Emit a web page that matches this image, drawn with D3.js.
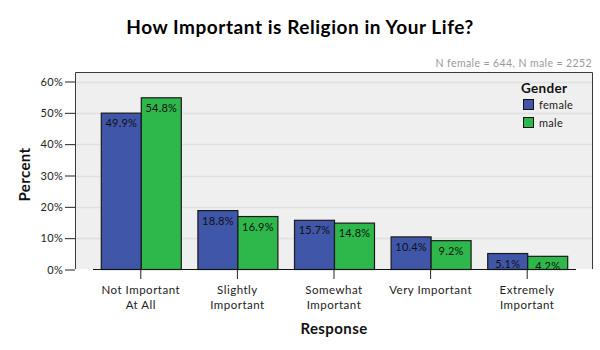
<!DOCTYPE html>
<html>
<head>
<meta charset="utf-8">
<script src="https://cdn.jsdelivr.net/npm/d3@7"></script>
<style>
  html, body { margin: 0; padding: 0; background: #fff; }
  svg { display: block; font-family: Lato, "Open Sans", sans-serif; }
</style>
</head>
<body>
<svg id="chart" width="600" height="350"></svg>
<script>
// Survey responses by gender (percent of respondents)
const categories = ["Not Important|At All", "Slightly|Important", "Somewhat|Important", "Very Important", "Extremely|Important"];
const groups = ["female", "male"];
const femaleValues = [49.9, 18.8, 15.7, 10.4, 5.1];
const maleValues = [54.8, 16.9, 14.8, 9.2, 4.2];
const yTicks = [0, 10, 20, 30, 40, 50, 60];
const colors = ["#3f56a9", "#2eb84b"];

const svg = d3.select("#chart");
const panel = { left: 75, top: 72, right: 593, bottom: 269 };

const x = d3.scaleBand()
  .domain(categories)
  .range([92.5, 575.5])
  .paddingInner(0.172)
  .paddingOuter(0.086);
const xSub = d3.scaleBand().domain(groups).range([0, x.bandwidth()]);
const y = d3.scaleLinear().domain([0, 60]).range([269.5, 81.5]);

// Panel background
svg.append("rect")
  .attr("x", panel.left).attr("y", panel.top)
  .attr("width", panel.right - panel.left).attr("height", panel.bottom - panel.top)
  .attr("fill", "#efefef");

// Horizontal gridlines
svg.append("g").selectAll("line")
  .data(yTicks.filter(d => d > 0))
  .join("line")
  .attr("x1", panel.left).attr("x2", panel.right)
  .attr("y1", d => Math.round(y(d)) + 0.5).attr("y2", d => Math.round(y(d)) + 0.5)
  .attr("stroke", "#e0e0e0").attr("stroke-width", 1.5);

// Panel border (left, top, right)
svg.append("path")
  .attr("d", `M${panel.left + 0.5},${panel.bottom}V${panel.top + 0.5}H${panel.right - 0.5}V${panel.bottom}`)
  .attr("fill", "none").attr("stroke", "#3a3a3a").attr("stroke-width", 1);

// Y axis
const yAxis = svg.append("g")
  .attr("transform", `translate(${panel.left},0)`)
  .call(d3.axisLeft(y).tickValues(yTicks).tickFormat(d => d + "%").tickSize(10).tickPadding(2));
yAxis.select(".domain").remove();
yAxis.selectAll(".tick line").attr("stroke", "#222");
yAxis.selectAll("text").attr("font-size", 11).attr("fill", "#222")
  .attr("font-family", "Lato, sans-serif").attr("letter-spacing", "0.3px");

// Bars
const series = groups.map((g, i) => ({ key: g, values: i === 0 ? femaleValues : maleValues }));
const barData = [];
categories.forEach((c, ci) => {
  series.forEach((s, si) => barData.push({ cat: c, key: s.key, value: s.values[ci], color: colors[si] }));
});

const bars = svg.append("g").selectAll("g").data(barData).join("g");
bars.append("rect")
  .attr("x", d => x(d.cat) + xSub(d.key) + 0.5)
  .attr("y", d => y(d.value))
  .attr("width", xSub.bandwidth())
  .attr("height", d => y(0) - y(d.value))
  .attr("fill", d => d.color)
  .attr("stroke", "#1a1a1a").attr("stroke-width", 1.2);
bars.append("text")
  .attr("x", d => x(d.cat) + xSub(d.key) + xSub.bandwidth() / 2 + 0.5)
  .attr("y", d => y(d.value) + 14)
  .attr("text-anchor", "middle")
  .attr("font-size", 11).attr("fill", "#111").attr("letter-spacing", "0.2px")
  .text(d => d.value.toFixed(1) + "%");

// X axis
const xAxis = svg.append("g")
  .attr("transform", `translate(0,${panel.bottom})`)
  .call(d3.axisBottom(x).tickSize(10).tickSizeOuter(0).tickFormat(""));
xAxis.select(".domain").attr("stroke", "#111").attr("stroke-width", 1.2);
xAxis.selectAll(".tick line").attr("stroke", "#222");
xAxis.selectAll(".tick").each(function (d) {
  const lines = d.split("|");
  const t = d3.select(this).append("text")
    .attr("text-anchor", "middle").attr("fill", "#222")
    .attr("font-size", 11.5).attr("letter-spacing", "0.5px")
    .attr("font-family", "Lato, sans-serif");
  lines.forEach((l, i) => t.append("tspan").attr("x", 0).attr("y", 25 + i * 15).text(l));
});

// Titles
svg.append("text")
  .attr("x", 300).attr("y", 34).attr("text-anchor", "middle")
  .attr("font-size", 19).attr("font-weight", "bold").attr("fill", "#000")
  .attr("letter-spacing", "0.55px")
  .text("How Important is Religion in Your Life?");
svg.append("text")
  .attr("x", (x.range()[0] + x.range()[1]) / 2).attr("y", 334).attr("text-anchor", "middle")
  .attr("font-size", 15).attr("font-weight", "bold").attr("fill", "#111")
  .attr("letter-spacing", "0.4px")
  .text("Response");
svg.append("text")
  .attr("transform", `translate(30,${(panel.top + panel.bottom) / 2 + 4}) rotate(-90)`)
  .attr("text-anchor", "middle")
  .attr("font-size", 15).attr("font-weight", "bold").attr("fill", "#111")
  .attr("letter-spacing", "0.4px")
  .text("Percent");

// Sample size note
svg.append("text")
  .attr("x", 592).attr("y", 67).attr("text-anchor", "end")
  .attr("font-size", 10.5).attr("fill", "#999").attr("letter-spacing", "0.4px")
  .text("N female = 644, N male = 2252");

// Legend
const legend = svg.append("g").attr("transform", "translate(521,0)");
legend.append("text").attr("x", 0).attr("y", 93)
  .attr("font-size", 13.5).attr("font-weight", "bold").attr("fill", "#111")
  .attr("letter-spacing", "0.3px").text("Gender");
groups.forEach((g, i) => {
  legend.append("rect")
    .attr("x", 2.5).attr("y", 99.5 + i * 18).attr("width", 10).attr("height", 10)
    .attr("fill", colors[i]).attr("stroke", "#111").attr("stroke-width", 1);
  legend.append("text").attr("x", 18).attr("y", 108.5 + i * 18)
    .attr("font-size", 11).attr("fill", "#222").attr("letter-spacing", "0.3px").text(g);
});
</script>
</body>
</html>
